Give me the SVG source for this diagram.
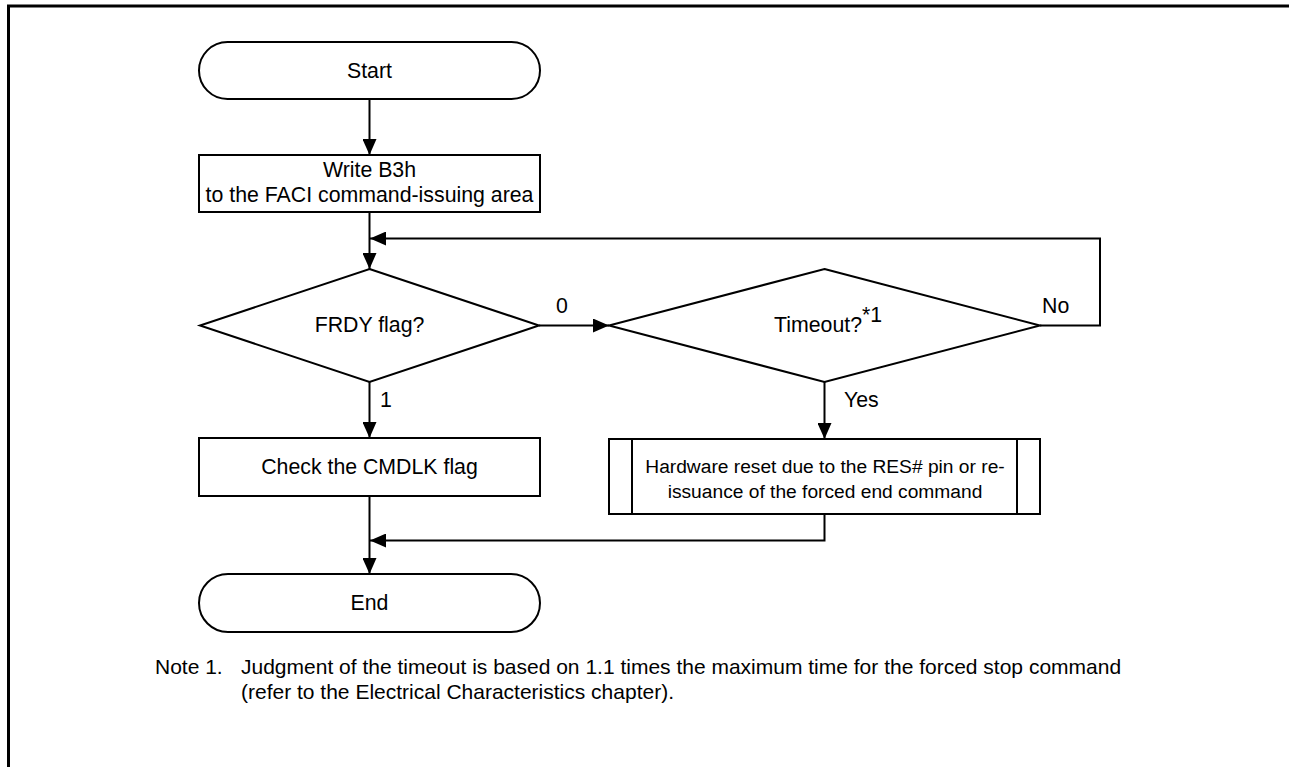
<svg xmlns="http://www.w3.org/2000/svg" width="1289" height="767" viewBox="0 0 1289 767">
<style>
.s{fill:#fff;stroke:#000;stroke-width:2}
.c{fill:none;stroke:#000;stroke-width:2}
text{font-family:"Liberation Sans",Arial,sans-serif;font-size:21.3px;fill:#000}
.m{text-anchor:middle}
.h{font-size:19.2px}
.n{font-size:21px}
</style>
<defs>
<marker id="a" markerUnits="userSpaceOnUse" markerWidth="16" markerHeight="14" viewBox="0 0 16 14" refX="16" refY="7" orient="auto">
<path d="M0,0 L16,7 L0,14 Z" fill="#000"/>
</marker>
</defs>
<rect width="1289" height="767" fill="#fff"/>
<path d="M8.5,767 V6 H1289" fill="none" stroke="#000" stroke-width="3"/>

<g id="start"><rect class="s" x="199" y="42" width="341" height="57" rx="28.5"/><text class="m" x="369.5" y="78">Start</text></g>
<g id="write"><rect class="s" x="199" y="155" width="341" height="57"/><text class="m" x="369.5" y="177">Write B3h</text><text class="m" x="369.5" y="202">to the FACI command-issuing area</text></g>
<g id="frdy"><path class="s" d="M369.5,269 L539,325.5 L369.5,382 L200,325.5 Z"/><text class="m" x="369.5" y="332">FRDY flag?</text></g>
<g id="timeout"><path class="s" d="M824.5,269 L1040,325.5 L824.5,382 L609,325.5 Z"/><text x="774" y="332">Timeout?</text><text x="862" y="322" font-size="11">*1</text></g>
<g id="check"><rect class="s" x="199" y="438" width="341" height="58"/><text class="m" x="369.5" y="474">Check the CMDLK flag</text></g>
<g id="hwreset"><rect class="s" x="609" y="439" width="431" height="75"/><path class="c" d="M632,439 V514 M1017,439 V514"/><text class="m h" x="825" y="473">Hardware reset due to the RES# pin or re-</text><text class="m h" x="825" y="498">issuance of the forced end command</text></g>
<g id="end"><rect class="s" x="199" y="574" width="341" height="58" rx="29"/><text class="m" x="369.5" y="610">End</text></g>

<g id="connectors">
<path class="c" d="M369.5,99 V155" marker-end="url(#a)"/>
<path class="c" d="M369.5,212 V269" marker-end="url(#a)"/>
<path class="c" d="M1040,325.5 H1100 V238.5 H370" marker-end="url(#a)"/>
<path class="c" d="M539,325.5 H609" marker-end="url(#a)"/>
<path class="c" d="M369.5,382 V438" marker-end="url(#a)"/>
<path class="c" d="M824.5,382 V439" marker-end="url(#a)"/>
<path class="c" d="M369.5,496 V574" marker-end="url(#a)"/>
<path class="c" d="M824.5,514 V540.5 H370" marker-end="url(#a)"/>
<text x="556" y="313">0</text>
<text x="1042" y="313">No</text>
<text x="380" y="407">1</text>
<text x="844" y="407">Yes</text>
</g>

<g id="note">
<text class="n" x="155" y="674">Note 1.</text>
<text class="n" x="241" y="674">Judgment of the timeout is based on 1.1 times the maximum time for the forced stop command</text>
<text class="n" x="241" y="699">(refer to the Electrical Characteristics chapter).</text>
</g>
</svg>
